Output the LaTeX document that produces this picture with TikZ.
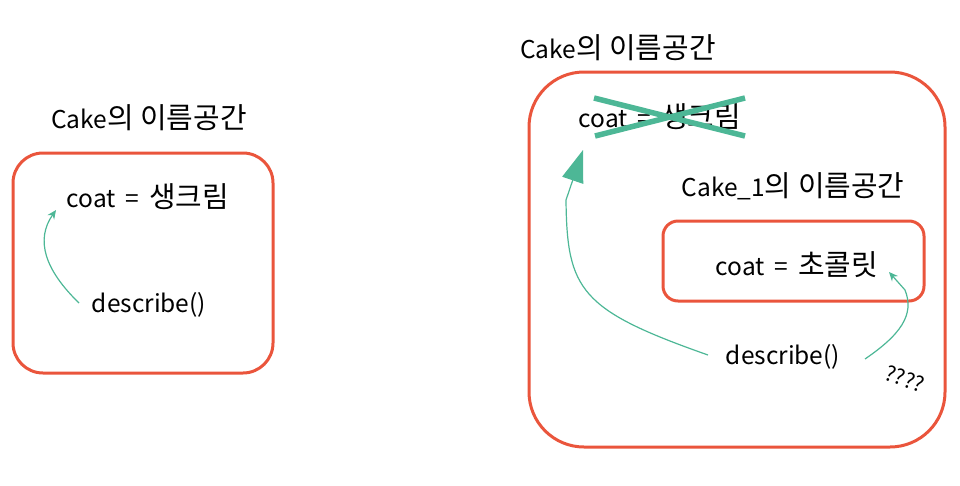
\documentclass[tikz,border=0pt]{standalone}
\usepackage{fontspec}
\setmainfont{Noto Sans CJK KR}[WordSpace=1.8]
\newfontfamily\kr{Noto Sans CJK KR}[Scale=1.18]
\usetikzlibrary{arrows.meta}
\definecolor{boxred}{RGB}{234,85,60}
\definecolor{teal}{RGB}{77,183,150}
\tikzset{
  lbl/.style={font=\fontsize{24.5}{28}\selectfont, inner sep=0pt, anchor=center},
  nsbox/.style={draw=boxred, line width=3pt},
  thinarrow/.style={draw=teal, line width=1.2pt, -{Stealth[length=9pt,width=8pt]}},
  bigarrow/.style={draw=teal, line width=1.2pt, -{Triangle[length=32pt,width=22pt]}},
  crossline/.style={draw=teal, line width=5.5pt}
}
\begin{document}
\begin{tikzpicture}[x=1pt,y=-1pt]
\useasboundingbox (0,0) rectangle (960,485);
% left namespace
\node[lbl] (t1) at (149,118) {Cake{\kr 의 이름공간}};
\draw[nsbox, rounded corners=30pt] (13,153) rectangle (273,373);
\node[lbl] (c1) at (148,197) {coat = {\kr 생크림}};
\node[lbl] (d1) at (149,305) {describe()};
\coordinate (a1s) at (79,303);
\coordinate (a1e) at (56,210);
\draw[thinarrow] (a1s) .. controls (45,270) and (35,240) .. (a1e);
% right namespace
\node[lbl] (t2) at (618,48) {Cake{\kr 의 이름공간}};
\draw[nsbox, rounded corners=55pt] (529,72) rectangle (945,447);
\node[lbl] (c2) at (660,117) {coat = {\kr 생크림}};
\coordinate (x1) at (594,98);
\coordinate (x2) at (745,136);
\coordinate (x3) at (595,136);
\coordinate (x4) at (745,98);
\draw[crossline] (x1) -- (x2);
\draw[crossline] (x3) -- (x4);
\node[lbl] (t3) at (793,186) {Cake\_1{\kr 의 이름공간}};
\draw[nsbox, rounded corners=15pt] (663,221) rectangle (924,301);
\node[lbl] (c3) at (797,265) {coat = {\kr 초콜릿}};
\node[lbl] (d2) at (783,357) {describe()};
\coordinate (a2s) at (708,355);
\coordinate (a2e) at (583,150);
\draw[bigarrow] (a2s) .. controls (580,310) and (567,290) .. (566,200) -- (a2e);
\coordinate (a3s) at (865,359);
\coordinate (a3e) at (889,272);
\draw[thinarrow] (a3s) .. controls (900,335) and (915,315) .. (905,290) -- (a3e);
\node[lbl, rotate=-20, font=\fontsize{21}{24}\selectfont] (q) at (905,379) {????};
\end{tikzpicture}
\end{document}
